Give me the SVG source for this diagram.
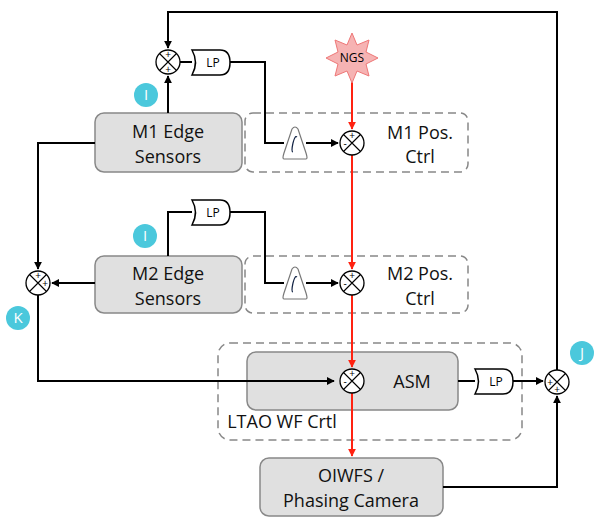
<svg xmlns="http://www.w3.org/2000/svg" width="600" height="524" viewBox="0 0 600 524">
<defs>
<marker id="a" viewBox="0 0 10 10" refX="9" refY="5" markerWidth="4" markerHeight="4" orient="auto"><path d="M0,0L10,5L0,10z" fill="#000"/></marker>
<marker id="r" viewBox="0 0 10 10" refX="9" refY="5" markerWidth="4" markerHeight="4" orient="auto"><path d="M0,0L10,5L0,10z" fill="#f21"/></marker>
<g id="sum"><circle r="12" fill="#fff" stroke="#000" stroke-width="1.3"/><path d="M-8.5,-8.5L8.5,8.5M8.5,-8.5L-8.5,8.5" stroke="#000" stroke-width="1.1"/></g>
<path id="lp" d="M0,0H28Q38,0 38,12.5Q38,25 28,25H0Q7,12.5 0,0z" fill="#fff" stroke="#000" stroke-width="1.5"/>
<g id="int"><path d="M-11,16Q-13,16 -11,10L-3,-14Q0,-18 3,-14L11,10Q13,16 11,16z" fill="#fff" stroke="#777" stroke-width="1.2"/><path d="M-2,9Q-4,9 -2,0Q0,-8 2,-6" fill="none" stroke="#124" stroke-width="1.2"/></g>
</defs>
<style>
.w{fill:none;stroke:#000;stroke-width:2}
.red{fill:none;stroke:#f21;stroke-width:2}
.box{fill:#e0e0e0;stroke:#888;stroke-width:1.5}
.dash{fill:none;stroke:#888;stroke-width:1.5;stroke-dasharray:8,5}
text{font-family:"Open Sans","Liberation Sans",sans-serif;fill:#111}
.t{font-size:18px;text-anchor:middle}
.s{font-size:12px;text-anchor:middle;fill:#000}
.pm{font-size:10px;text-anchor:middle;fill:#000}
.c{fill:#4bc8dc}
.ct{font-size:15px;fill:#fff;text-anchor:middle}
</style>
<g id="dashed">
<rect class="dash" x="245" y="113" width="223" height="59" rx="8"/>
<rect class="dash" x="245" y="256" width="223" height="57" rx="8"/>
<rect class="dash" x="218" y="343" width="304" height="97" rx="12"/>
</g>
<g id="m1"><rect class="box" x="95" y="113" width="147" height="59" rx="9"/><text x="168" y="138" class="t">M1 Edge</text><text x="168" y="163" class="t">Sensors</text></g>
<g id="m2"><rect class="box" x="95" y="256" width="147" height="57" rx="9"/><text x="168" y="280" class="t">M2 Edge</text><text x="168" y="305" class="t">Sensors</text></g>
<g id="asm"><rect class="box" x="247" y="352" width="211" height="58" rx="9"/><text x="412" y="388" class="t">ASM</text></g>
<g id="oiwfs"><rect class="box" x="260" y="458" width="183" height="58" rx="9"/><text x="351" y="482" class="t">OIWFS /</text><text x="351" y="507" class="t">Phasing Camera</text></g>
<g id="connectors">
<path class="w" d="M557,370V12H168V48" marker-end="url(#a)"/>
<path class="w" d="M168,113V76" marker-end="url(#a)"/>
<path class="w" d="M180,62H192"/>
<path class="w" d="M230,62H265V143H284"/>
<path class="w" d="M306,143H338" marker-end="url(#a)"/>
<path class="w" d="M95,143H38V269" marker-end="url(#a)"/>
<path class="w" d="M168,256V212H192"/>
<path class="w" d="M230,212H265V283H284"/>
<path class="w" d="M306,283H338" marker-end="url(#a)"/>
<path class="w" d="M95,283H52" marker-end="url(#a)"/>
<path class="w" d="M38,295V381H334" marker-end="url(#a)"/>
<path class="w" d="M458,381H475"/>
<path class="w" d="M513,381H543" marker-end="url(#a)"/>
<path class="w" d="M443,487H557V396" marker-end="url(#a)"/>
<path class="red" d="M352,82V129" marker-end="url(#r)"/>
<path class="red" d="M352,155V269" marker-end="url(#r)"/>
<path class="red" d="M352,295V367" marker-end="url(#r)"/>
<path class="red" d="M352,393V456" marker-end="url(#r)"/>
</g>
<g id="ngs"><polygon points="352,33 357,45 369,40 366,52 378,58 366,64 369,76 357,71 352,83 347,71 335,76 338,64 326,58 338,52 335,40 347,45" fill="#f6b3b3" stroke="#e77" stroke-width="1"/><text x="352" y="62" class="s" font-size="11">NGS</text></g>
<g id="m1ctrl"><text x="420" y="139" class="t" font-size="16">M1 Pos.</text><text x="420" y="163" class="t" font-size="16">Ctrl</text></g>
<g id="m2ctrl"><text x="420" y="280" class="t" font-size="16">M2 Pos.</text><text x="420" y="305" class="t" font-size="16">Ctrl</text></g>
<text x="282" y="428" class="t" font-size="16">LTAO WF Crtl</text>
<g id="lp1"><use href="#lp" x="192" y="50"/><text x="213" y="67" class="s">LP</text></g>
<g id="lp2"><use href="#lp" x="192" y="200"/><text x="213" y="217" class="s">LP</text></g>
<g id="lp3"><use href="#lp" x="475" y="369"/><text x="496" y="386" class="s">LP</text></g>
<g id="int1"><use href="#int" x="295" y="143"/></g>
<g id="int2"><use href="#int" x="295" y="283"/></g>
<g id="s1"><use href="#sum" x="168" y="62"/><text x="168" y="58" class="pm">+</text><text x="168" y="73" class="pm">+</text></g>
<g id="s2"><use href="#sum" x="352" y="143"/><text x="352" y="139" class="pm">+</text><text x="345" y="147" class="pm">-</text></g>
<g id="s3"><use href="#sum" x="352" y="283"/><text x="352" y="279" class="pm">+</text><text x="345" y="287" class="pm">-</text></g>
<g id="s4"><use href="#sum" x="38" y="283"/><text x="38" y="279" class="pm">+</text><text x="45" y="287" class="pm">+</text></g>
<g id="s5"><use href="#sum" x="352" y="381"/><text x="352" y="377" class="pm">+</text><text x="345" y="385" class="pm">-</text></g>
<g id="s6"><use href="#sum" x="557" y="382"/><text x="550" y="386" class="pm">+</text><text x="557" y="393" class="pm">+</text></g>
<g id="ci1"><circle class="c" cx="146" cy="95" r="12"/><text x="146" y="100" class="ct">I</text></g>
<g id="ci2"><circle class="c" cx="145" cy="236" r="12"/><text x="145" y="241" class="ct">I</text></g>
<g id="ck"><circle class="c" cx="18" cy="318" r="12"/><text x="18" y="323" class="ct">K</text></g>
<g id="cj"><circle class="c" cx="582" cy="353" r="12"/><text x="582" y="358" class="ct">J</text></g>
</svg>
